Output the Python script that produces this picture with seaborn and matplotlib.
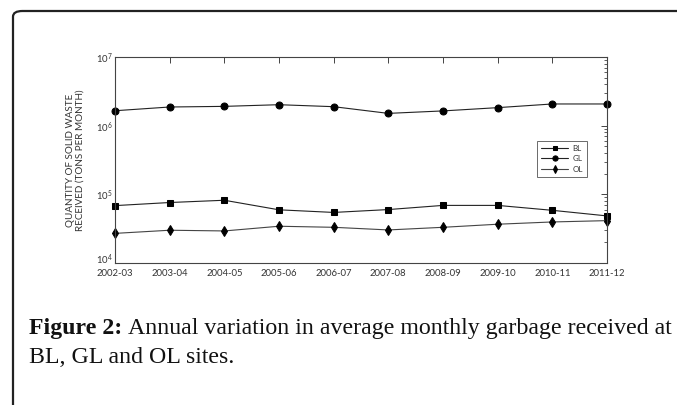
import matplotlib
matplotlib.use("Agg")
import matplotlib.pyplot as plt
import seaborn as sns
import pandas as pd
import numpy as np
from matplotlib.patches import FancyBboxPatch
from matplotlib.ticker import LogLocator, NullFormatter, FixedLocator
from matplotlib.transforms import ScaledTranslation

years = ["2002-03", "2003-04", "2004-05", "2005-06", "2006-07",
         "2007-08", "2008-09", "2009-10", "2010-11", "2011-12"]
bl = [6.85e4, 7.6e4, 8.2e4, 5.95e4, 5.45e4, 6.0e4, 6.9e4, 6.9e4, 5.85e4, 4.85e4]
gl = [1.65e6, 1.87e6, 1.91e6, 2.02e6, 1.89e6, 1.51e6, 1.64e6, 1.83e6, 2.07e6, 2.07e6]
ol = [2.7e4, 3.0e4, 2.93e4, 3.43e4, 3.31e4, 3.03e4, 3.31e4, 3.67e4, 3.96e4, 4.14e4]
sites = ["BL", "GL", "OL"]

df = pd.DataFrame({
    "x": list(range(len(years))) * 3,
    "value": bl + gl + ol,
    "site": [s for s in sites for _ in years],
})

sns.set_style("white")
plt.rcParams["font.family"] = ["Lato", "DejaVu Sans"]

fig = plt.figure(figsize=(6.77, 4.05), dpi=100)
ax = fig.add_axes([115 / 677, 1 - 263 / 405, (607 - 115) / 677, (263 - 57) / 405])

markers = {"BL": "s", "GL": "o", "OL": "d"}
palette = {"BL": "#222222", "GL": "#222222", "OL": "#444444"}
sns.lineplot(data=df, x="x", y="value", hue="site", style="site",
             markers=markers, dashes=False, palette=palette, ax=ax,
             linewidth=0.8, markersize=4.5, clip_on=False, legend=False)
msizes = {"BL": 3.8, "GL": 5.0, "OL": 5.2}
for ln, s in zip(ax.lines, sites):
    ln.set_markerfacecolor("black")
    ln.set_markeredgecolor("black")
    ln.set_markersize(msizes[s])
    ln.set_label(s)

ax.set_yscale("log")
ax.set_ylim(1e4, 1e7)
ax.set_xlim(0, len(years) - 1)
ax.set_xticks(range(len(years)))
ax.set_xticklabels(years)
ax.yaxis.set_major_locator(FixedLocator([1e4, 1e5, 1e6, 1e7]))
ax.yaxis.set_minor_locator(LogLocator(base=10, subs=np.arange(2, 10), numticks=20))
ax.yaxis.set_minor_formatter(NullFormatter())
ax.tick_params(axis="both", which="both", direction="in", top=True, right=True,
               colors="#444444", labelcolor="#333333", labelsize=6.8)
ax.tick_params(axis="both", which="major", length=4, width=0.7)
ax.tick_params(axis="x", which="major", pad=4.5)
ax.tick_params(axis="y", which="major", pad=2)
ax.tick_params(axis="y", which="minor", length=2, width=0.6)
for sp in ax.spines.values():
    sp.set_color("#444444")
    sp.set_linewidth(0.8)
ax.set_xlabel("")
ax.set_ylabel("QUANTITY OF SOLID WASTE\nRECEIVED (TONS PER MONTH)", fontsize=7.1,
              color="#333333", labelpad=8, linespacing=1.05)

handles = ax.lines[:3]
leg = ax.legend(handles=handles, labels=sites, loc="upper left",
                bbox_to_anchor=((533 - 115) / 492, 1 - (137 - 57) / 206),
                fontsize=5.8, frameon=True, fancybox=False, handlelength=3.4,
                borderpad=0.5, labelspacing=0.4, handletextpad=0.5, markerscale=0.75)
leg.get_frame().set_edgecolor("#444444")
leg.get_frame().set_linewidth(0.7)
leg.get_frame().set_facecolor("white")
for t in leg.get_texts():
    t.set_color("#333333")

# document frame (rounded left/top border)
frame = FancyBboxPatch((13 / 677, -0.2), 1.0, 1 - 11 / 405 + 0.2,
                       boxstyle="round,pad=0,rounding_size=0.014",
                       transform=fig.transFigure, fill=False,
                       edgecolor="#222222", linewidth=1.6, clip_on=False)
fig.patches.append(frame)

serif = ["Liberation Serif", "DejaVu Serif"]
fs = 17.2
y1 = 1 - 334 / 405
t1 = fig.text(29 / 677, y1, "Figure 2:", fontsize=fs, fontweight="bold",
              family=serif, va="baseline", ha="left", color="#111111")
fig.canvas.draw()
bb = t1.get_window_extent()
x2 = (bb.x1 + 6) / fig.bbox.width
fig.text(x2, y1, "Annual variation in average monthly garbage received at",
         fontsize=fs, family=serif, va="baseline", ha="left", color="#111111")
fig.text(29 / 677, 1 - 363 / 405, "BL, GL and OL sites.",
         fontsize=fs, family=serif, va="baseline", ha="left", color="#111111")

# nudge the lowest y tick label up slightly so it clears the first x label
low = ax.yaxis.get_major_ticks()[0].label1
low.set_transform(low.get_transform() + ScaledTranslation(0, 3.5 / 72, fig.dpi_scale_trans))

fig.savefig("out.png", dpi=100)
